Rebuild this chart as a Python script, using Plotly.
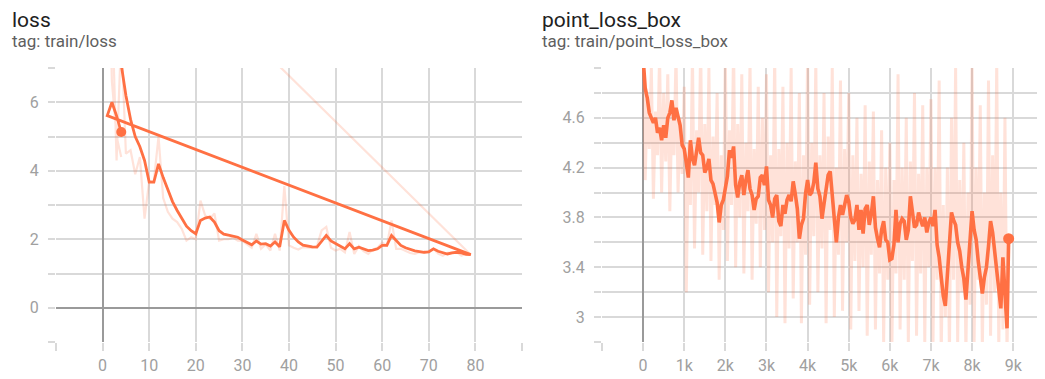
import plotly.graph_objects as go

# ---------------- data: loss (left) ----------------
# run 1 logged steps 1..79, then a restarted run logged steps 1..4
loss_steps = list(range(1, 80)) + [1, 2, 3, 4]
loss_raw = [12.5, 9.0,
            4.3, 8.0, 4.5, 4.6, 3.9, 4.4, 2.6, 3.7, 3.7, 5.0,
            3.2, 2.8, 2.6, 2.5, 2.3, 1.96, 2.06, 2.0, 3.13, 2.7,
            2.6, 2.75, 1.96, 2.0, 2.0, 2.05, 1.96, 1.95, 1.85, 1.75,
            2.16, 1.72, 1.85, 1.67, 2.16, 1.67, 3.55, 1.82, 1.75, 1.7,
            1.77, 1.77, 1.75, 1.8, 2.26, 2.36, 1.75, 1.67, 1.72, 1.62,
            2.21, 1.57, 1.8, 1.65, 1.57, 1.7, 1.75, 1.9, 1.82, 2.55,
            1.72, 1.72, 1.65, 1.6, 1.57, 1.62, 1.6, 1.65, 1.72, 1.58,
            1.52, 1.6, 1.62, 1.62, 1.52, 1.58, 1.55,
            12.0, 6.6, 5.0, 4.4]
loss_smooth = [12.5, 10.6,
               9.0, 7.1, 6.2, 5.5, 5.0, 4.7, 4.3, 3.67, 3.67, 4.2,
               3.8, 3.42, 3.1, 2.84, 2.6, 2.38, 2.25, 2.16, 2.55, 2.62,
               2.65, 2.5, 2.25, 2.15, 2.12, 2.08, 2.06, 1.98, 1.92, 1.84,
               1.95, 1.86, 1.87, 1.8, 1.92, 1.78, 2.55, 2.26, 2.06, 1.92,
               1.83, 1.8, 1.78, 1.77, 1.95, 2.11, 1.95, 1.87, 1.8, 1.72,
               1.87, 1.72, 1.77, 1.72, 1.67, 1.68, 1.72, 1.82, 1.82, 2.11,
               1.95, 1.82, 1.75, 1.7, 1.66, 1.64, 1.62, 1.63, 1.72, 1.65,
               1.6, 1.57, 1.6, 1.62, 1.6, 1.56, 1.55,
               5.61, 6.0, 5.6, 5.13]

# ---------------- data: point_loss_box (right) ----------------
box_steps = list(range(0, 8900, 50)) + [8890]
box_raw = [5.2, 4.1, 4.75, 4.35, 5.0, 3.95, 4.65, 4.3, 5.1, 4.0, 4.8, 4.25, 4.95, 3.85, 4.7, 4.3, 5.1, 4.0, 4.6, 4.15,
           4.85, 3.2, 4.4, 3.9, 5.1, 3.55, 4.5, 4.0, 5.2, 3.5, 4.55, 3.85, 5.0, 3.45, 4.45, 3.9, 4.8, 3.3, 4.3, 3.7,
           5.1, 3.45, 4.5, 3.9, 5.2, 3.4, 4.55, 3.8, 4.95, 3.35, 4.4, 3.85, 5.05, 3.3, 4.35, 3.75, 4.85, 3.4, 4.6, 3.7,
           4.95, 3.2, 4.3, 3.6, 5.1, 3.0, 4.35, 3.65, 4.85, 2.95, 4.4, 3.55, 5.0, 3.15, 4.25, 3.6, 4.8, 2.95, 4.3, 3.5,
           5.1, 3.1, 4.4, 3.65, 5.05, 3.2, 4.3, 3.55, 4.8, 2.95, 4.45, 3.7, 5.0, 3.0, 4.2, 3.5, 4.9, 3.05, 4.35, 3.6,
           4.8, 2.9, 4.3, 3.45, 4.6, 3.05, 4.15, 3.4, 4.7, 2.85, 4.25, 3.5, 4.65, 2.9, 4.1, 3.35, 4.5, 2.8, 4.2, 3.3,
           4.4, 2.75, 4.1, 3.35, 4.95, 2.9, 4.2, 3.3, 4.6, 2.8, 4.25, 3.45, 4.8, 2.85, 4.15, 3.35, 4.7, 2.8, 4.2, 3.4,
           4.75, 2.8, 4.2, 3.3, 4.9, 2.7, 3.9, 3.0, 4.2, 2.7, 4.6, 3.3, 5.0, 2.8, 4.1, 3.2, 4.4, 2.7, 4.0, 3.1,
           5.0, 2.8, 4.2, 3.3, 4.7, 2.75, 4.0, 3.1, 4.9, 2.85, 4.3, 3.2, 5.05, 2.75, 4.0, 2.9, 4.6, 2.7,
           3.63]
box_smooth = [5.08, 4.84, 4.76, 4.64, 4.6, 4.56, 4.6, 4.48, 4.52, 4.42, 4.54, 4.44, 4.6, 4.64, 4.74, 4.58, 4.68, 4.6, 4.54, 4.38,
              4.35, 4.24, 4.12, 4.42, 4.27, 4.22, 4.34, 4.44, 4.32, 4.3, 4.16, 4.2, 4.27, 4.1, 4.07, 4.0, 3.92, 3.76, 3.9, 3.94,
              4.06, 4.13, 4.34, 4.28, 4.37, 4.06, 3.96, 4.08, 4.14, 3.98, 4.1, 4.18, 4.03, 3.98, 3.86, 3.95, 3.97, 4.12, 4.14, 4.06,
              4.21, 3.94, 3.9, 3.8, 3.95, 3.98, 3.77, 3.73, 3.9, 3.83, 3.94, 3.98, 3.93, 4.09, 3.99, 3.87, 3.63, 3.74, 3.79, 3.99,
              4.1, 3.98, 4.0, 4.08, 4.24, 4.03, 3.97, 3.79, 3.91, 4.03, 4.14, 4.17, 3.96, 3.72, 3.6, 3.8, 3.9, 3.82, 3.9, 3.98,
              3.93, 3.8, 3.75, 3.78, 3.9, 3.7, 3.86, 3.67, 3.87, 3.9, 3.74, 3.83, 3.97, 3.72, 3.63, 3.56, 3.7, 3.77, 3.62, 3.6,
              3.46, 3.47, 3.58, 3.86, 3.6, 3.75, 3.79, 3.77, 3.62, 3.7, 3.97, 3.83, 3.72, 3.74, 3.84, 3.78, 3.73, 3.8, 3.68, 3.76,
              3.8, 3.73, 3.86, 3.58, 3.48, 3.32, 3.17, 3.09, 3.34, 3.63, 3.84, 3.78, 3.74, 3.6, 3.53, 3.4, 3.31, 3.14, 3.36, 3.6,
              3.85, 3.7, 3.62, 3.45, 3.3, 3.19, 3.32, 3.4, 3.57, 3.77, 3.68, 3.53, 3.4, 3.22, 3.07, 3.48, 3.18, 2.91,
              3.63]

box_xticks = [0, 1000, 2000, 3000, 4000, 5000, 6000, 7000, 8000, 9000]
box_xtext = ["0", "1k", "2k", "3k", "4k", "5k", "6k", "7k", "8k", "9k"]
box_yticks = [3.0, 3.4, 3.8, 4.2, 4.6]
box_ytext = ["3", "3.4", "3.8", "4.2", "4.6"]
loss_xticks = [0, 10, 20, 30, 40, 50, 60, 70, 80]
loss_yticks = [0, 2, 4, 6]

# ---------------- style ----------------
ORANGE = "#ff7043"
RAW = "rgba(255,112,67,0.2)"
GRID = "#d9d9d9"
ZERO = "#9a9a9a"
TICKFONT = dict(family="Roboto, sans-serif", size=16, color="#a0a0a0")

fig = go.Figure()

fig.add_trace(go.Scatter(x=loss_steps, y=loss_raw, mode="lines",
                         line=dict(color=RAW, width=2.2), xaxis="x", yaxis="y", hoverinfo="skip"))
fig.add_trace(go.Scatter(x=loss_steps, y=loss_smooth, mode="lines",
                         line=dict(color=ORANGE, width=2.8), xaxis="x", yaxis="y"))
fig.add_trace(go.Scatter(x=loss_steps[-1:], y=loss_smooth[-1:], mode="markers",
                         marker=dict(color=ORANGE, size=10), xaxis="x", yaxis="y"))

fig.add_trace(go.Scatter(x=box_steps, y=box_raw, mode="lines",
                         line=dict(color=RAW, width=3.0), xaxis="x2", yaxis="y2", hoverinfo="skip"))
fig.add_trace(go.Scatter(x=box_steps, y=box_smooth, mode="lines",
                         line=dict(color=ORANGE, width=3.6), xaxis="x2", yaxis="y2"))
fig.add_trace(go.Scatter(x=box_steps[-1:], y=box_smooth[-1:], mode="markers",
                         marker=dict(color=ORANGE, size=11), xaxis="x2", yaxis="y2"))

# page body has an 8px margin, so figure pixel = reference pixel - 8
W, H = 1037, 371
ydom = [1 - 334 / H, 1 - 60 / H]

def xaxis(dom, rng, tv, tt, t0, dt, anchor):
    return dict(domain=dom, range=rng, anchor=anchor, tickmode="array", tickvals=tv, ticktext=tt,
                showgrid=True, gridcolor=GRID, gridwidth=1.5,
                ticks="outside", ticklen=8, tickcolor=GRID, tickwidth=1.5,
                zeroline=True, zerolinecolor=ZERO, zerolinewidth=2,
                showline=False, tickfont=TICKFONT, ticklabelstandoff=1,
                minor=dict(tickmode="linear", tick0=t0, dtick=dt, showgrid=True, gridcolor=GRID,
                           gridwidth=1.5, ticks="outside", ticklen=8, tickcolor=GRID, tickwidth=1.5),
                fixedrange=True)

def yaxis(dom, rng, tv, tt, t0, dt, anchor):
    return dict(domain=dom, range=rng, anchor=anchor, tickmode="array", tickvals=tv, ticktext=tt,
                showgrid=True, gridcolor=GRID, gridwidth=1.5,
                ticks="outside", ticklen=7, tickcolor=GRID, tickwidth=1.5,
                zeroline=True, zerolinecolor=ZERO, zerolinewidth=2,
                showline=False, tickfont=TICKFONT, ticklabelstandoff=6,
                minor=dict(tickmode="linear", tick0=t0, dtick=dt, showgrid=True, gridcolor=GRID,
                           gridwidth=1.5, ticks="outside", ticklen=7, tickcolor=GRID, tickwidth=1.5),
                fixedrange=True)

TITLE = dict(family="Roboto, sans-serif", size=21, color="#212121")
TAG = dict(family="Roboto, sans-serif", size=17, color="#5f5f5f")

fig.update_layout(
    width=W, height=H, margin=dict(l=0, r=0, t=0, b=0),
    paper_bgcolor="white", plot_bgcolor="white", showlegend=False,
    xaxis=xaxis([48 / W, 514 / W], [-10, 90], loss_xticks, [str(v) for v in loss_xticks], -10, 10, "y"),
    yaxis=yaxis(ydom, [-1, 7], loss_yticks, [str(v) for v in loss_yticks], -1, 1, "x"),
    xaxis2=xaxis([594 / W, 1.0], [-1000, 9774], box_xticks, box_xtext, -1000, 1000, "y2"),
    yaxis2=yaxis(ydom, [2.8, 5.0], box_yticks, box_ytext, 2.8, 0.2, "x2"),
    annotations=[
        dict(text="loss", x=3 / W, y=1 - 12 / H, xref="paper", yref="paper", xanchor="left",
             yanchor="middle", showarrow=False, font=TITLE, borderpad=0),
        dict(text="tag: train/loss", x=3 / W, y=1 - 33 / H, xref="paper", yref="paper", xanchor="left",
             yanchor="middle", showarrow=False, font=TAG, borderpad=0),
        dict(text="point_loss_box", x=533 / W, y=1 - 12 / H, xref="paper", yref="paper", xanchor="left",
             yanchor="middle", showarrow=False, font=TITLE, borderpad=0),
        dict(text="tag: train/point_loss_box", x=533 / W, y=1 - 33 / H, xref="paper", yref="paper", xanchor="left",
             yanchor="middle", showarrow=False, font=TAG, borderpad=0),
    ],
)

fig.write_html("out.html")
